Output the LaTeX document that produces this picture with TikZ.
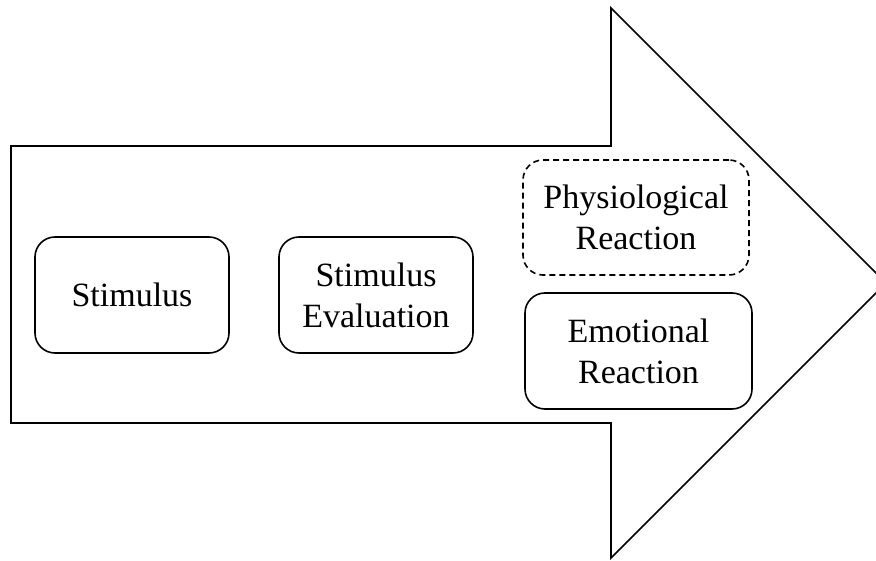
\documentclass[tikz,border=0pt]{standalone}
\usepackage{fontspec}
\setmainfont{Liberation Serif}
\begin{document}
\begin{tikzpicture}[x=1pt,y=-1pt,
  line width=1.6pt,
  stage/.style={draw, rounded corners=20pt, align=center, inner sep=0pt,
    font=\fontsize{34}{41}\selectfont},
  optional/.style={stage, dash pattern=on 6pt off 4pt}]
\useasboundingbox (0,0) rectangle (876,561);
% large process arrow
\draw[line join=miter] (11,146) -- (611,146) -- (611,8) -- (886,283)
  -- (611,558) -- (611,423) -- (11,423) -- cycle;
% stages
\node[stage, minimum width=194pt, minimum height=116pt] (stim) at (132,295) {Stimulus};
\node[stage, minimum width=194pt, minimum height=116pt] (eval) at (376,295) {Stimulus\\Evaluation};
\node[optional, minimum width=226pt, minimum height=115pt] (phys) at (636,217.5) {Physiological\\Reaction};
\node[stage, minimum width=227pt, minimum height=116pt] (emo) at (638.5,351) {Emotional\\Reaction};
\end{tikzpicture}
\end{document}
